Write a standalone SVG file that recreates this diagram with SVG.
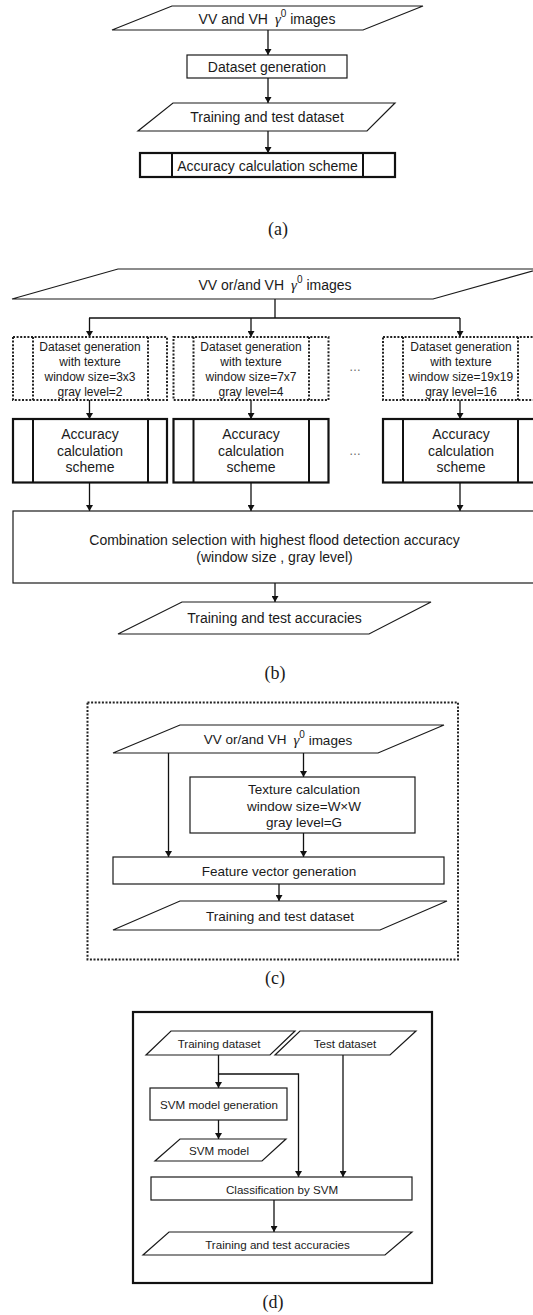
<svg xmlns="http://www.w3.org/2000/svg" width="533" height="1315" viewBox="0 0 533 1315">
<style>
.bg{fill:#ffffff}
.n{fill:#ffffff;stroke:#1a1a1a;stroke-width:1.2}
.thick{fill:#ffffff;stroke:#111111;stroke-width:2.2}
.ln{fill:none;stroke:#111111;stroke-width:2}
.dot{fill:none;stroke:#222222;stroke-width:2;stroke-dasharray:2 1.6}
.e{stroke:#111111;stroke-width:1.3;fill:none}
.ea{stroke:#111111;stroke-width:1.3;fill:none;marker-end:url(#ah)}
text{font-family:"Liberation Sans",Arial,sans-serif;fill:#1a1a1a;text-anchor:middle;dominant-baseline:central}
.t14{font-size:14px}
.t135{font-size:13.5px}
.t12{font-size:12px}
.t115{font-size:11.6px}
.cap{font-family:"Liberation Serif","Times New Roman",serif;font-size:18px}
.g{font-family:"Liberation Serif","Times New Roman",serif;font-style:italic;font-size:15px}
.ell{font-size:12px;fill:#666666}
</style>
<defs>
<marker id="ah" markerWidth="6" markerHeight="7" refX="6" refY="3.5" orient="auto" markerUnits="userSpaceOnUse">
<path d="M0,0 L6,3.5 L0,7 z" fill="#111111"/>
</marker>
</defs>
<rect class="bg" x="0" y="0" width="533" height="1315"/>

<!-- ===== (a) ===== -->
<g id="connectors-a">
<line class="ea" x1="268" y1="30" x2="268" y2="55"/>
<line class="ea" x1="268" y1="78" x2="268" y2="103"/>
<line class="ea" x1="268" y1="131" x2="268" y2="153"/>
</g>
<g id="a-images">
<polygon class="n" points="172,6 423,6 363,30 112,30"/>
<text class="t14" x="267" y="18.5">VV and VH<tspan class="g" dx="7">γ</tspan><tspan font-size="10" dy="-6">0</tspan><tspan dy="6"> images</tspan></text>
</g>
<g id="a-datasetgen">
<rect class="n" x="187" y="55" width="160" height="23"/>
<text class="t14" x="267" y="67">Dataset generation</text>
</g>
<g id="a-dataset">
<polygon class="n" points="173,103 395,103 367,131 138,131"/>
<text class="t14" x="267" y="117">Training and test dataset</text>
</g>
<g id="a-accuracy">
<rect class="thick" x="140" y="153" width="255" height="24"/>
<line class="ln" x1="172" y1="153" x2="172" y2="177"/>
<line class="ln" x1="363" y1="153" x2="363" y2="177"/>
<text class="t14" x="267.5" y="165.5">Accuracy calculation scheme</text>
</g>
<text class="cap" x="278" y="229">(a)</text>

<!-- ===== (b) ===== -->
<g id="connectors-b">
<polyline class="e" points="275,299 275,318"/>
<line class="e" x1="89" y1="318" x2="460" y2="318"/>
<line class="ea" x1="89.5" y1="318" x2="89.5" y2="337"/>
<line class="ea" x1="251" y1="318" x2="251" y2="337"/>
<line class="ea" x1="460" y1="318" x2="460" y2="337"/>
<line class="ea" x1="89.5" y1="400" x2="89.5" y2="419"/>
<line class="ea" x1="251" y1="400" x2="251" y2="419"/>
<line class="ea" x1="460" y1="400" x2="460" y2="419"/>
<line class="ea" x1="89.5" y1="483" x2="89.5" y2="511"/>
<line class="ea" x1="251" y1="483" x2="251" y2="511"/>
<line class="ea" x1="460" y1="483" x2="460" y2="511"/>
<line class="ea" x1="275" y1="583" x2="275" y2="602"/>
</g>
<g id="b-images">
<polygon class="n" points="118,269 540,269 433,299 12,299"/>
<text class="t14" x="275" y="284.5">VV or/and VH<tspan class="g" dx="7">γ</tspan><tspan font-size="10" dy="-6">0</tspan><tspan dy="6"> images</tspan></text>
</g>
<g id="b-gen1">
<rect class="dot" x="13" y="337" width="154" height="63"/>
<line class="dot" x1="33" y1="337" x2="33" y2="400"/>
<line class="dot" x1="148" y1="337" x2="148" y2="400"/>
<text class="t12" x="90" y="347">Dataset generation</text>
<text class="t12" x="90" y="362">with texture</text>
<text class="t12" x="90" y="377">window size=3x3</text>
<text class="t12" x="90" y="392">gray level=2</text>
</g>
<g id="b-gen2">
<rect class="dot" x="173.5" y="337" width="155" height="63"/>
<line class="dot" x1="193.5" y1="337" x2="193.5" y2="400"/>
<line class="dot" x1="309" y1="337" x2="309" y2="400"/>
<text class="t12" x="251" y="347">Dataset generation</text>
<text class="t12" x="251" y="362">with texture</text>
<text class="t12" x="251" y="377">window size=7x7</text>
<text class="t12" x="251" y="392">gray level=4</text>
</g>
<text class="ell" x="355" y="367">…</text>
<g id="b-gen3">
<rect class="dot" x="383" y="337" width="156" height="63"/>
<line class="dot" x1="403" y1="337" x2="403" y2="400"/>
<line class="dot" x1="518" y1="337" x2="518" y2="400"/>
<text class="t12" x="461" y="347">Dataset generation</text>
<text class="t12" x="461" y="362">with texture</text>
<text class="t12" x="461" y="377">window size=19x19</text>
<text class="t12" x="461" y="392">gray level=16</text>
</g>
<g id="b-acc1">
<rect class="thick" x="13" y="419" width="154" height="63.5"/>
<line class="ln" x1="33" y1="419" x2="33" y2="482.5"/>
<line class="ln" x1="148" y1="419" x2="148" y2="482.5"/>
<text class="t14" x="90" y="434">Accuracy</text>
<text class="t14" x="90" y="450.5">calculation</text>
<text class="t14" x="90" y="467">scheme</text>
</g>
<g id="b-acc2">
<rect class="thick" x="173.5" y="419" width="155" height="63.5"/>
<line class="ln" x1="193.5" y1="419" x2="193.5" y2="482.5"/>
<line class="ln" x1="309" y1="419" x2="309" y2="482.5"/>
<text class="t14" x="251" y="434">Accuracy</text>
<text class="t14" x="251" y="450.5">calculation</text>
<text class="t14" x="251" y="467">scheme</text>
</g>
<text class="ell" x="355" y="451">…</text>
<g id="b-acc3">
<rect class="thick" x="383" y="419" width="156" height="63.5"/>
<line class="ln" x1="403" y1="419" x2="403" y2="482.5"/>
<line class="ln" x1="518" y1="419" x2="518" y2="482.5"/>
<text class="t14" x="461" y="434">Accuracy</text>
<text class="t14" x="461" y="450.5">calculation</text>
<text class="t14" x="461" y="467">scheme</text>
</g>
<g id="b-combination">
<rect class="n" x="13" y="511" width="530" height="72"/>
<text class="t14" x="274.5" y="540">Combination selection with highest flood detection accuracy</text>
<text class="t14" x="274.5" y="557">(window size , gray level)</text>
</g>
<g id="b-accuracies">
<polygon class="n" points="182,602 431,602 369,634 118,634"/>
<text class="t14" x="274.5" y="618">Training and test accuracies</text>
</g>
<text class="cap" x="275" y="673">(b)</text>

<!-- ===== (c) ===== -->
<g id="c-frame">
<rect class="dot" x="87.5" y="702.5" width="370.5" height="257"/>
</g>
<g id="connectors-c">
<line class="ea" x1="168.5" y1="753" x2="168.5" y2="857"/>
<line class="ea" x1="303.5" y1="753" x2="303.5" y2="777"/>
<line class="ea" x1="303.5" y1="833" x2="303.5" y2="857"/>
<line class="ea" x1="279" y1="884" x2="279" y2="901"/>
</g>
<g id="c-images">
<polygon class="n" points="180,725 444,725 378,753 113,753"/>
<text class="t135" x="278" y="739.5">VV or/and VH<tspan class="g" dx="7">γ</tspan><tspan font-size="10" dy="-6">0</tspan><tspan dy="6"> images</tspan></text>
</g>
<g id="c-texture">
<rect class="n" x="190" y="777" width="225" height="56"/>
<text class="t135" x="304" y="789.5">Texture calculation</text>
<text class="t135" x="304" y="806">window size=W×W</text>
<text class="t135" x="304" y="822">gray level=G</text>
</g>
<g id="c-feature">
<rect class="n" x="113" y="857" width="331" height="27"/>
<text class="t135" x="279" y="871">Feature vector generation</text>
</g>
<g id="c-dataset">
<polygon class="n" points="180,901 447,901 380,930 113,930"/>
<text class="t135" x="280" y="916">Training and test dataset</text>
</g>
<text class="cap" x="275" y="978">(c)</text>

<!-- ===== (d) ===== -->
<g id="d-frame">
<rect class="thick" x="133" y="1012" width="299" height="271" fill="none"/>
</g>
<g id="connectors-d">
<line class="ea" x1="218.5" y1="1055" x2="218.5" y2="1088"/>
<polyline class="ea" points="218.5,1074 298.5,1074 298.5,1177"/>
<line class="ea" x1="343" y1="1055" x2="343" y2="1177"/>
<line class="ea" x1="218.5" y1="1120" x2="218.5" y2="1139"/>
<line class="ea" x1="274" y1="1200" x2="274" y2="1232"/>
</g>
<g id="d-training">
<polygon class="n" points="171,1031 295,1031 270,1055 146,1055"/>
<text class="t115" x="219" y="1043">Training dataset</text>
</g>
<g id="d-test">
<polygon class="n" points="300,1031 416,1031 390,1055 275,1055"/>
<text class="t115" x="345" y="1043">Test dataset</text>
</g>
<g id="d-svmgen">
<rect class="n" x="150" y="1088" width="137" height="32"/>
<text class="t115" x="219" y="1104">SVM model generation</text>
</g>
<g id="d-svmmodel">
<polygon class="n" points="180,1139 286,1139 262,1161 155,1161"/>
<text class="t115" x="219" y="1150">SVM model</text>
</g>
<g id="d-classification">
<rect class="n" x="151" y="1177" width="261" height="23"/>
<text class="t115" x="282" y="1189">Classification by SVM</text>
</g>
<g id="d-accuracies">
<polygon class="n" points="169,1232 412,1232 385,1255 143,1255"/>
<text class="t115" x="277.5" y="1244">Training and test accuracies</text>
</g>
<text class="cap" x="273" y="1302">(d)</text>
</svg>
